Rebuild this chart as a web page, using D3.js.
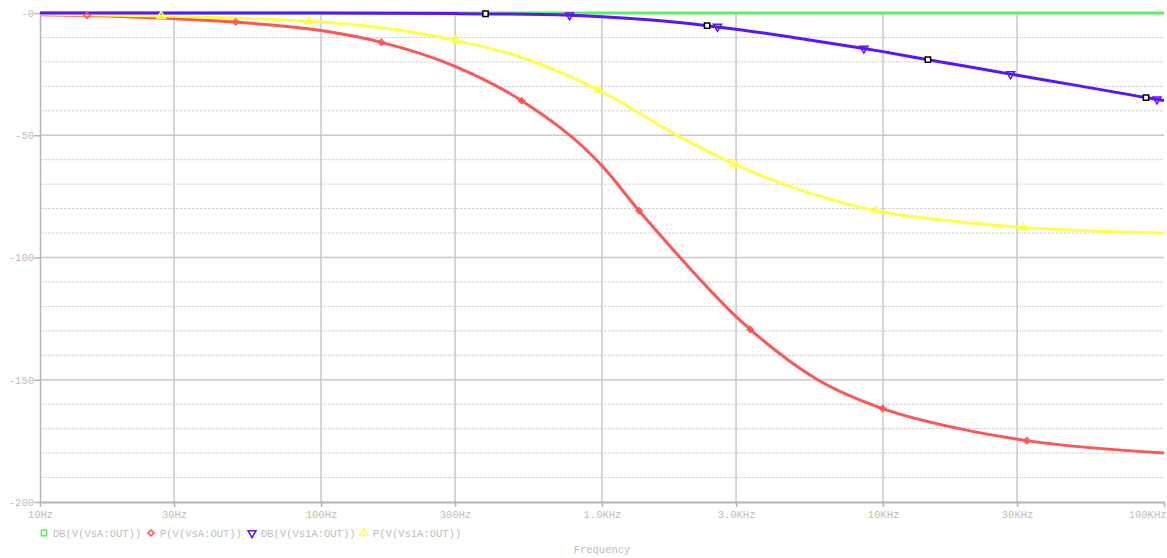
<!DOCTYPE html>
<html>
<head>
<meta charset="utf-8">
<script src="https://cdn.jsdelivr.net/npm/d3@7"></script>
<style>
  body { margin: 0; background: #fff; }
  text { font-family: "Liberation Mono", "DejaVu Sans Mono", monospace; font-size: 10.5px; fill: #bdbdbd; }
</style>
</head>
<body>
<svg id="myGraph" width="1167" height="558"></svg>
<script>
// axis ticks
var xTicks = [10, 30, 100, 300, 1000, 3000, 10000, 30000, 100000];
var xTickLabels = ['10Hz', '30Hz', '100Hz', '300Hz', '1.0KHz', '3.0KHz', '10KHz', '30KHz', '100KHz'];
var yTicks = [0, -50, -100, -150, -200];
var yTickLabels = ['-0', '-50', '-100', '-150', '-200'];

// traces [freq, value]
var dbVsA = [[10, 0], [1000, 0], [100000, 0]];
var pVsA = [[10, -0.7], [14.7, -1], [30, -2.3], [49.7, -3.7], [100, -7.2], [164, -12], [300, -21.8],
  [518, -35.9], [1000, -62.5], [1355, -80.9], [1862, -99], [2233, -109], [3000, -124.2], [3368, -129.4],
  [5877, -150.1], [9970, -161.8], [18500, -169.9], [32500, -174.9], [100000, -180]];
var dbVs1A = [[10, 0], [100, -0.05], [300, -0.25], [767, -0.9], [1000, -1.5], [1500, -2.9], [2366, -5.2],
  [3000, -6.6], [5000, -10.3], [8551, -14.5], [10000, -15.8], [14450, -19.1], [20000, -21.9],
  [28450, -25], [50000, -29.8], [86300, -34.6], [100000, -35.8]];
var pVs1A = [[10, -0.4], [27, -1.2], [90.6, -3.4], [100, -3.7], [302, -11.2], [526, -18.4], [968, -31.4],
  [1986, -51.9], [2958, -61.8], [5534, -73.8], [9462, -80.9], [18500, -85.4], [31600, -87.7], [100000, -90]];

// symbol markers on the traces
var pVsAMarks = [[14.7, -1], [49.7, -3.7], [164, -12], [518, -35.9], [1355, -80.9], [3368, -129.4], [9970, -161.8], [32500, -174.9]];
var pVs1AMarks = [[27, -1.2], [90.6, -3.4], [302, -11.2], [968, -31.4], [2958, -61.8], [9462, -80.9], [31600, -87.7]];
var dbVs1AMarks = [[767, -0.9], [2576, -5.6], [8551, -14.5], [28450, -25], [94400, -35.3]];
var boxMarks = [[385, -0.3], [2366, -5.2], [14450, -19.1], [86300, -34.6]];

var legendNames = ['DB(V(VsA:OUT))', 'P(V(VsA:OUT))', 'DB(V(Vs1A:OUT))', 'P(V(Vs1A:OUT))'];

var colors = ['#5cf05c', '#ff5555', '#5a14ff', '#ffff4a'];

var svg = d3.select('#myGraph');
var x = d3.scaleLog().domain([10, 100000]).range([40, 1164]);
var y = d3.scaleLinear().domain([-200, 0]).range([502, 13]);

// grid
var minor = d3.range(-10, -200, -10).filter(function(v) { return v % 50 !== 0; });
svg.append('g').selectAll('line').data(minor).enter().append('line')
  .attr('x1', 40).attr('x2', 1164)
  .attr('y1', function(d) { return y(d); }).attr('y2', function(d) { return y(d); })
  .style('stroke', '#d4d4d4').style('stroke-dasharray', '3,1').style('stroke-width', 1);
svg.append('g').selectAll('line').data([-50, -100, -150]).enter().append('line')
  .attr('x1', 40).attr('x2', 1164)
  .attr('y1', function(d) { return y(d); }).attr('y2', function(d) { return y(d); })
  .style('stroke', '#cacaca').style('stroke-width', 1.5);
svg.append('g').selectAll('line').data(xTicks.slice(1, -1)).enter().append('line')
  .attr('x1', function(d) { return x(d); }).attr('x2', function(d) { return x(d); })
  .attr('y1', 13).attr('y2', 502)
  .style('stroke', '#c8c8c8').style('stroke-width', 1.5);

// axes
var xAxis = d3.axisBottom(x).tickValues(xTicks).tickSize(5).tickSizeOuter(0)
  .tickFormat(function(d, i) { return xTickLabels[i]; });
var gx = svg.append('g').attr('transform', 'translate(0,502)').call(xAxis);
gx.select('.domain').style('stroke', '#b4b4b4').style('stroke-width', 2);
gx.selectAll('.tick line').style('stroke', '#b4b4b4').style('stroke-width', 1.5);
gx.selectAll('.tick text').attr('dy', '1.1em').attr('y', 4);
gx.selectAll('.tick text').filter(function(d) { return d === 100000; })
  .attr('text-anchor', 'end').attr('dx', 2);

var yAxis = d3.axisLeft(y).tickValues(yTicks).tickSize(6).tickSizeOuter(0)
  .tickFormat(function(d, i) { return yTickLabels[i]; });
var gy = svg.append('g').attr('transform', 'translate(40,0)').call(yAxis);
gy.select('.domain').style('stroke', '#b4b4b4').style('stroke-width', 1.5);
gy.selectAll('.tick line').style('stroke', '#b4b4b4').style('stroke-width', 1.5);
gy.selectAll('.tick text').attr('x', -6);
svg.selectAll('.tick text').style('font-family', '"Liberation Mono", monospace').style('font-size', '10.5px').style('fill', '#bdbdbd');

// traces
var line = d3.line()
  .x(function(d) { return x(d[0]); })
  .y(function(d) { return y(d[1]); })
  .curve(d3.curveMonotoneX);

var traces = [
  { data: dbVsA, color: colors[0] },
  { data: pVsA, color: colors[1] },
  { data: pVs1A, color: colors[3] },
  { data: dbVs1A, color: colors[2] }
];
traces.forEach(function(t) {
  svg.append('path').datum(t.data).attr('d', line)
    .style('fill', 'none').style('stroke', t.color).style('stroke-width', 3)
    .style('stroke-linejoin', 'round');
});

// markers: kind = 'diamond' | 'up' | 'down' | 'box'
var symOf = {
  diamond: { type: d3.symbolSquare, size: 18, rot: 45 },
  up: { type: d3.symbolTriangle, size: 28, rot: 0 },
  down: { type: d3.symbolTriangle, size: 28, rot: 180 },
  box: { type: d3.symbolSquare, size: 28, rot: 0 }
};
function drawMarks(data, kind, color, fill) {
  var s = symOf[kind];
  svg.append('g').selectAll('path').data(data).enter().append('path')
    .attr('d', d3.symbol().type(s.type).size(s.size))
    .attr('transform', function(d) {
      return 'translate(' + x(d[0]) + ',' + y(d[1]) + ') rotate(' + s.rot + ')';
    })
    .style('fill', fill || 'none')
    .style('stroke', color).style('stroke-width', 1.5);
}
drawMarks(pVsAMarks, 'diamond', colors[1]);
drawMarks(pVs1AMarks, 'up', colors[3]);
drawMarks(dbVs1AMarks, 'down', colors[2]);
drawMarks(boxMarks, 'box', '#000', '#fff');

// legend
var legendX = [44, 151, 252, 364];
var legendKind = ['box', 'diamond', 'down', 'up'];
var legend = svg.append('g').selectAll('g').data(legendNames).enter().append('g')
  .attr('transform', function(d, i) { return 'translate(' + legendX[i] + ',533)'; });
legend.append('path')
  .attr('d', function(d, i) { var s = symOf[legendKind[i]]; return d3.symbol().type(s.type).size(s.size)(); })
  .attr('transform', function(d, i) { return 'rotate(' + symOf[legendKind[i]].rot + ')'; })
  .style('fill', 'none').style('stroke', function(d, i) { return colors[i]; }).style('stroke-width', 1.5);
legend.append('text').attr('x', 9).attr('dy', '0.35em').text(function(d) { return d; });

svg.append('text').attr('x', 602).attr('y', 553).attr('text-anchor', 'middle').text('Frequency');
</script>
</body>
</html>
